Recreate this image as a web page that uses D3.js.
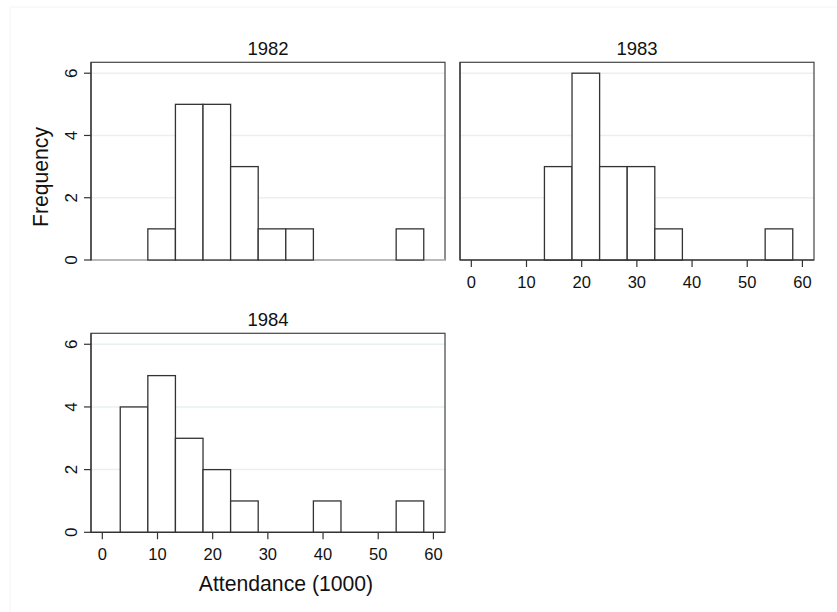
<!DOCTYPE html>
<html><head><meta charset="utf-8">
<script src="https://cdn.jsdelivr.net/npm/d3@7"></script>
<style>body{margin:0;background:#fff}svg{display:block;font-family:"Liberation Sans",Arial,sans-serif}</style>
</head><body><svg id="c" width="837" height="612"></svg>
<script>
const panels = ["1982", "1983", "1984"];
const binStarts = [3.25, 8.25, 13.25, 18.25, 23.25, 28.25, 33.25, 38.25, 43.25, 48.25, 53.25];
const binWidth = 5;
const counts1982 = [0, 1, 5, 5, 3, 1, 1, 0, 0, 0, 1];
const counts1983 = [0, 0, 3, 6, 3, 3, 1, 0, 0, 0, 1];
const counts1984 = [4, 5, 3, 2, 1, 0, 0, 1, 0, 0, 1];
const xTicks = [0, 10, 20, 30, 40, 50, 60];
const yTicks = [0, 2, 4, 6];
const xTitle = "Attendance (1000)";
const yTitle = "Frequency";

const svg = d3.select("#c");
// faint outer graph border
svg.append("path").attr("d","M10,612V7H837").attr("fill","none").attr("stroke","#f4f4f4").attr("stroke-width",1);

const layout = [
  {name: panels[0], counts: counts1982, x0: 91, x1: 445, y0: 62.3, y1: 260, yLabels: true, xAxis: false},
  {name: panels[1], counts: counts1983, x0: 460, x1: 814, y0: 62.3, y1: 260, yLabels: false, xAxis: true},
  {name: panels[2], counts: counts1984, x0: 91, x1: 445, y0: 333.3, y1: 532.3, yLabels: true, xAxis: true}
];

layout.forEach(p => {
  const x = d3.scaleLinear().domain([-2.05, 62.1]).range([p.x0, p.x1]);
  const y = d3.scaleLinear().domain([0, 6.35]).range([p.y1, p.y0]);
  const g = svg.append("g");
  // gridlines
  g.selectAll(".grid").data(yTicks).join("line")
    .attr("x1", p.x0).attr("x2", p.x1).attr("y1", d => y(d)).attr("y2", d => y(d))
    .attr("stroke", "#e9f0f1").attr("stroke-width", 1.5);
  // plot region border
  g.append("rect").attr("x", p.x0).attr("y", p.y0).attr("width", p.x1 - p.x0).attr("height", p.y1 - p.y0)
    .attr("fill", "none").attr("stroke", "#444").attr("stroke-width", 1.2);
  if (!p.xAxis) {
    g.append("line").attr("x1", p.x0 + 1).attr("x2", p.x1).attr("y1", p.y1).attr("y2", p.y1)
      .attr("stroke", "#c8c8c8").attr("stroke-width", 1.5);
  }
  // bars
  const data = binStarts.map((s, i) => ({s, c: p.counts[i]})).filter(d => d.c > 0);
  g.selectAll(".bar").data(data).join("rect")
    .attr("x", d => x(d.s)).attr("width", d => x(d.s + binWidth) - x(d.s))
    .attr("y", d => y(d.c)).attr("height", d => y(0) - y(d.c))
    .attr("fill", "#fff").attr("stroke", "#333").attr("stroke-width", 1.3);
  // y axis
  const ya = g.append("g").attr("transform", `translate(${p.x0},0)`);
  ya.append("line").attr("x1", 0).attr("x2", 0).attr("y1", p.y0).attr("y2", p.y1).attr("stroke", "#333").attr("stroke-width", 1.2);
  if (p.yLabels) {
    ya.selectAll(".t").data(yTicks).join("line")
      .attr("x1", -7).attr("x2", 0).attr("y1", d => y(d)).attr("y2", d => y(d)).attr("stroke", "#333").attr("stroke-width", 1.2);
    ya.selectAll(".l").data(yTicks).join("text")
      .attr("transform", d => `translate(-20,${y(d)}) rotate(-90)`)
      .attr("text-anchor", "middle").attr("dy", "0.35em").attr("font-size", 17).attr("fill", "#111")
      .text(d => d);
  }
  if (p.xAxis) {
    const xa = g.append("g").attr("transform", `translate(0,${p.y1})`);
    xa.append("line").attr("x1", p.x0).attr("x2", p.x1).attr("stroke", "#333").attr("stroke-width", 1.2);
    xa.selectAll(".t").data(xTicks).join("line")
      .attr("x1", d => x(d)).attr("x2", d => x(d)).attr("y1", 0).attr("y2", 7).attr("stroke", "#333").attr("stroke-width", 1.2);
    xa.selectAll(".l").data(xTicks).join("text")
      .attr("x", d => x(d)).attr("y", 22).attr("dy", "0.35em")
      .attr("text-anchor", "middle").attr("font-size", 16.5).attr("fill", "#111").text(d => d);
  }
  // title
  svg.append("text").attr("x", (p.x0 + p.x1) / 2).attr("y", p.y0 - 14).attr("dy", "0.35em")
    .attr("text-anchor", "middle").attr("font-size", 18.5).attr("fill", "#111").text(p.name);
});

svg.append("text").attr("transform", "translate(41,177) rotate(-90)").attr("text-anchor", "middle").attr("dy", "0.35em")
  .attr("font-size", 21.2).attr("fill", "#111").text(yTitle);
svg.append("text").attr("x", 286).attr("y", 584).attr("text-anchor", "middle").attr("dy", "0.35em")
  .attr("font-size", 21.2).attr("fill", "#111").text(xTitle);
</script></body></html>
